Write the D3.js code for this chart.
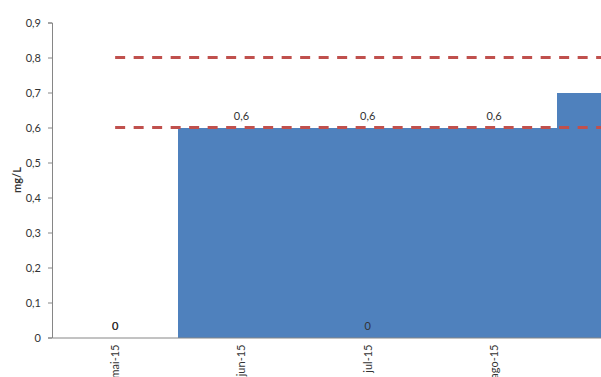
<!DOCTYPE html>
<html>
<head>
<meta charset="utf-8">
<script src="https://cdn.jsdelivr.net/npm/d3@7"></script>
<style>
  html, body { margin: 0; padding: 0; background: #fff; overflow: hidden; }
  svg { display: block; }
  text { font-family: Lato, "Liberation Sans", sans-serif; fill: #333; }
</style>
</head>
<body>
<svg id="chart" width="601" height="377"></svg>
<script>
// Monthly results (mg/L)
const categories = ["mai-15", "jun-15", "jul-15", "ago-15", "set-15"];
const resultado = [0, 0.6, 0.6, 0.6, 0.7];
const resultado2 = [0, null, 0, null, null];
// Reference limits drawn as dashed lines
const limiteSuperior = [0.8, 0.8, 0.8, 0.8, 0.8];
const limiteInferior = [0.6, 0.6, 0.6, 0.6, 0.6];
const yTicks = [0, 0.1, 0.2, 0.3, 0.4, 0.5, 0.6, 0.7, 0.8, 0.9];

const W = 601;
const svg = d3.select("#chart");
const plotLeft = 52, bandW = 126.3;
const plotTop = 22.5, plotBottom = 337.5;

const locale = d3.formatLocale({ decimal: ",", thousands: ".", grouping: [3], currency: ["", ""] });
const fmt = locale.format(".1~f");

const x = d3.scaleBand()
  .domain(categories)
  .range([plotLeft, plotLeft + bandW * categories.length])
  .padding(0);
const y = d3.scaleLinear().domain([0, 0.9]).range([plotBottom, plotTop]);
const cx = c => x(c) + x.bandwidth() / 2;

// Columns (adjacent, no gap)
svg.append("g").attr("shape-rendering", "crispEdges").selectAll("rect")
  .data(categories.map((c, i) => ({ c, v: resultado[i] })))
  .join("rect")
  .attr("x", d => Math.round(x(d.c)))
  .attr("width", d => Math.round(x(d.c) + x.bandwidth()) - Math.round(x(d.c)))
  .attr("y", d => y(d.v))
  .attr("height", d => y(0) - y(d.v))
  .attr("fill", "#4f81bd");

// Y axis
const yAxis = d3.axisLeft(y).tickValues(yTicks).tickFormat(fmt).tickSize(4).tickPadding(7);
const gy = svg.append("g").attr("transform", `translate(${plotLeft},0)`).call(yAxis);
gy.select(".domain").attr("stroke", "#868686").attr("stroke-width", 1);
gy.selectAll(".tick line").attr("stroke", "#868686");
gy.selectAll(".tick text").style("font-size", "11px").attr("fill", "#333");

// X axis (only months whose centre falls inside the view get a label)
const xAxis = d3.axisBottom(x).tickSize(0).tickFormat(d => d)
  .tickValues(categories.filter(c => cx(c) < W));
const gx = svg.append("g").attr("transform", `translate(0,${plotBottom})`).call(xAxis);
gx.select(".domain").attr("stroke", "#868686").attr("stroke-width", 1);
gx.selectAll(".tick text")
  .style("font-size", "11px")
  .attr("fill", "#333")
  .attr("text-anchor", "end")
  .attr("transform", "translate(0,7) rotate(-90)")
  .attr("x", 0).attr("y", 0).attr("dy", "0.35em");

// Y axis title
svg.append("text")
  .attr("transform", `translate(21,${(plotTop + plotBottom) / 2}) rotate(-90)`)
  .attr("text-anchor", "middle")
  .style("font-size", "11px")
  .style("font-weight", "bold")
  .text("mg/L");

// Limit lines
const line = d3.line().x((d, i) => cx(categories[i])).y(d => y(d));
[limiteSuperior, limiteInferior].forEach(s => {
  svg.append("path")
    .attr("d", line(s))
    .attr("fill", "none")
    .attr("stroke", "#c0504d")
    .attr("stroke-width", 3)
    .attr("stroke-dasharray", "10,8.5");
});

// Data labels
const labels = svg.append("g");
[resultado, resultado2].forEach(s => {
  labels.selectAll(null)
    .data(categories.map((c, i) => ({ c, v: s[i] })).filter(d => d.v != null && cx(d.c) < W))
    .join("text")
    .attr("x", d => cx(d.c))
    .attr("y", d => y(d.v) - 7.5)
    .attr("text-anchor", "middle")
    .style("font-size", "11px")
    .text(d => fmt(d.v));
});
</script>
</body>
</html>
